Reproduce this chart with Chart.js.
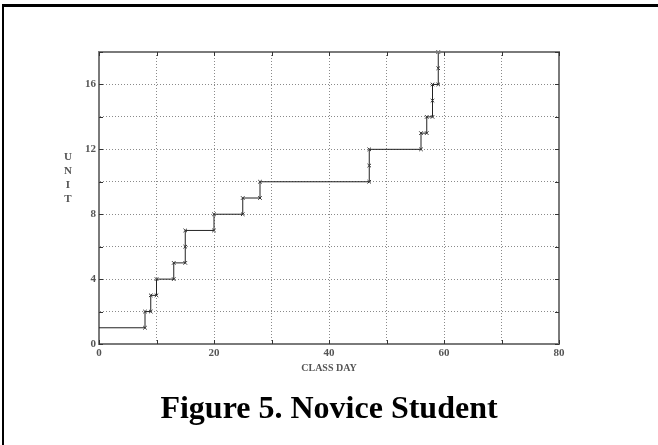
<!DOCTYPE html>
<html lang="en">
<head>
  <meta charset="UTF-8" />
  <title>Figure 5. Novice Student</title>
  <script src="https://cdn.jsdelivr.net/npm/chart.js"></script>
  <style>
    body { margin: 0; background: #fff; }
    #frame {
      position: absolute; left: 2px; top: 4px; width: 720px; height: 520px;
      border-left: 2px solid #000; border-top: 3px solid #000;
    }
    #wrap { position: absolute; left: 0; top: 0; width: 658px; height: 445px; }
  </style>
</head>
<body>
  <div id="frame"></div>
  <div id="wrap"><canvas id="unitChart" width="658" height="445"></canvas></div>

  <script>
    // class day on which each unit was reached (unit 1 at the start)
    const days  = [0, 8, 9, 10, 13, 15, 15, 20, 25, 28, 47, 47, 56, 57, 58, 58, 59, 59];
    const units = [1, 2, 3, 4, 5, 6, 7, 8, 9, 10, 11, 12, 13, 14, 15, 16, 17, 18];
    const xTickLabels = [0, 20, 40, 60, 80];
    const yTickLabels = [0, 4, 8, 12, 16];
    const caption = 'Figure 5. Novice Student';

    // corner points of the staircase
    const points = [{ x: days[0], y: units[0] }];
    for (let i = 1; i < days.length; i++) {
      if (days[i] !== days[i - 1]) points.push({ x: days[i], y: units[i - 1] });
      points.push({ x: days[i], y: units[i] });
    }

    const serif = 'Liberation Serif, Times New Roman, serif';
    const axisGray = '#7a7a7a';

    const boxPlugin = {
      id: 'box',
      afterDraw(chart) {
        const { ctx, chartArea: a, scales } = chart;
        ctx.save();
        ctx.setLineDash([]);
        ctx.strokeStyle = axisGray;
        ctx.lineWidth = 2;
        ctx.beginPath();
        ctx.moveTo(a.left, a.top); ctx.lineTo(a.right, a.top); ctx.lineTo(a.right, a.bottom);
        ctx.stroke();
        // inward tick marks
        ctx.lineWidth = 1;
        ctx.strokeStyle = '#333';
        ctx.beginPath();
        scales.x.ticks.forEach(t => {
          const px = Math.round(scales.x.getPixelForValue(t.value)) + 0.5;
          ctx.moveTo(px, a.bottom); ctx.lineTo(px, a.bottom - 4);
          ctx.moveTo(px, a.top); ctx.lineTo(px, a.top + 4);
        });
        scales.y.ticks.forEach(t => {
          const py = Math.round(scales.y.getPixelForValue(t.value)) + 0.5;
          ctx.moveTo(a.left, py); ctx.lineTo(a.left + 4, py);
          ctx.moveTo(a.right, py); ctx.lineTo(a.right - 4, py);
        });
        ctx.stroke();
        // stacked y title
        ctx.fillStyle = '#555';
        ctx.font = 'bold 11px ' + serif;
        ctx.textAlign = 'center';
        ctx.textBaseline = 'middle';
        ['U', 'N', 'I', 'T'].forEach((ch, i) => {
          ctx.fillText(ch, a.left - 31, a.top + 105 + i * 14);
        });
        // figure caption, centred under the plot
        ctx.fillStyle = '#000';
        ctx.font = 'bold 32px ' + serif;
        ctx.textBaseline = 'alphabetic';
        ctx.fillText(caption, (a.left + a.right) / 2, a.bottom + 74);
        ctx.restore();
      }
    };

    new Chart(document.getElementById('unitChart'), {
      type: 'line',
      data: {
        datasets: [{
          data: points,
          borderColor: '#222',
          borderWidth: 1,
          pointStyle: 'crossRot',
          pointRadius: points.map((p, i) => i === 0 ? 0 : 2.5),
          pointBorderColor: '#333',
          pointBorderWidth: 1,
          fill: false,
          tension: 0,
          clip: false
        }]
      },
      options: {
        responsive: false,
        animation: false,
        layout: { padding: { left: 49, right: 99, top: 52, bottom: 71 } },
        plugins: {
          legend: { display: false },
          tooltip: { enabled: false },
          title: { display: false }
        },
        scales: {
          x: {
            type: 'linear',
            min: 0, max: 80,
            afterFit: s => { s.height = 30; },
            ticks: {
              stepSize: 10,
              padding: 3,
              color: '#555',
              font: { family: serif, size: 11, weight: 'bold' },
              callback: v => xTickLabels.includes(v) ? String(v) : ''
            },
            grid: { color: '#8a8a8a', drawTicks: false },
            border: { color: axisGray, width: 2, dash: [1, 2] },
            title: {
              display: true, text: 'CLASS DAY', color: '#555',
              font: { family: serif, size: 10, weight: 'bold' },
              padding: { top: 1, bottom: 0 }
            }
          },
          y: {
            min: 0, max: 18,
            afterFit: s => { s.width = 50; },
            ticks: {
              stepSize: 2,
              padding: 3,
              color: '#555',
              font: { family: serif, size: 11, weight: 'bold' },
              callback: v => yTickLabels.includes(v) ? String(v) : ''
            },
            grid: { color: '#8a8a8a', drawTicks: false },
            border: { color: axisGray, width: 2, dash: [1, 2] }
          }
        }
      },
      plugins: [boxPlugin]
    });
  </script>
</body>
</html>
